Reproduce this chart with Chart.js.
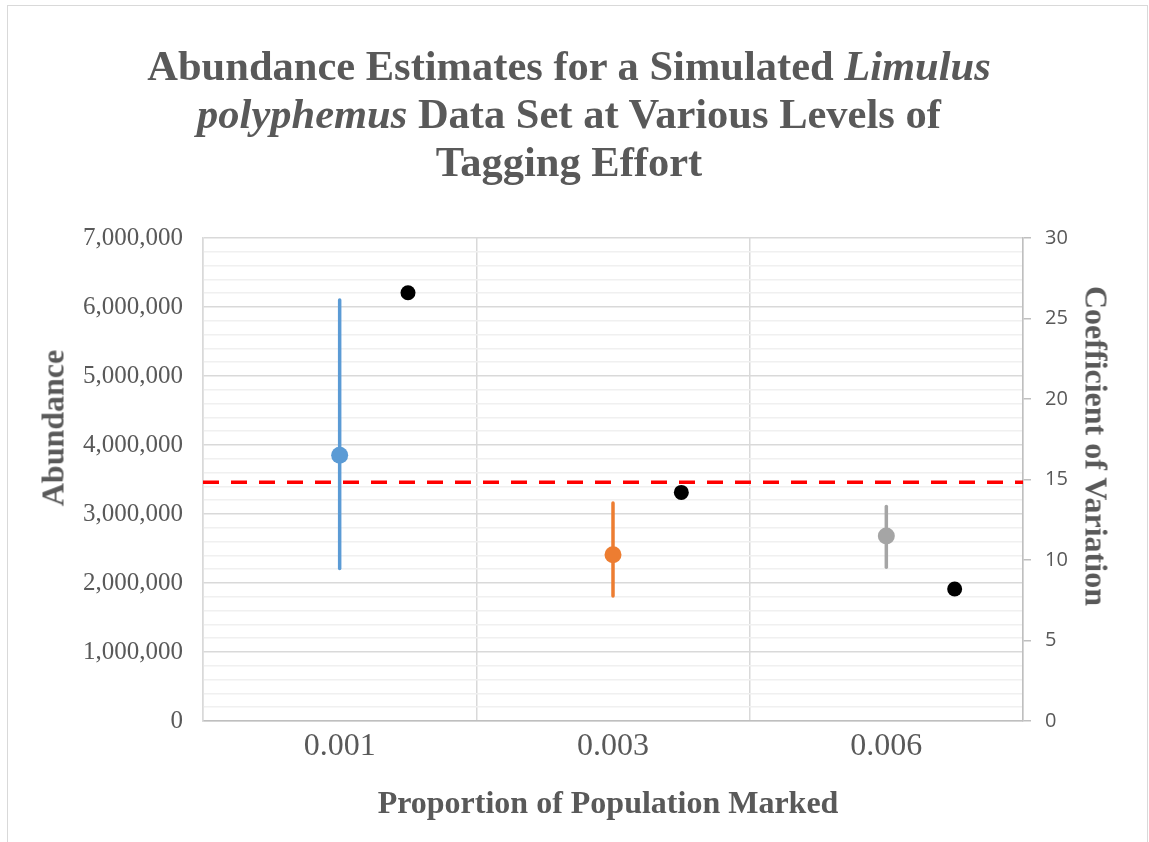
<!DOCTYPE html>
<html>
<head>
<meta charset="utf-8">
<script src="https://cdn.jsdelivr.net/npm/chart.js@4.4.1/dist/chart.umd.min.js"></script>
<style>
  html, body { margin: 0; padding: 0; background: #fff; }
  #wrap { position: relative; width: 1149px; height: 842px; overflow: hidden; }
  #frame { position: absolute; left: 7px; top: 5px; width: 1141px; height: 900px; border: 1.5px solid #d9d9d9; box-sizing: border-box; }
  canvas { position: absolute; left: 0; top: 0; }
  .ttl { position: absolute; font-family: "Liberation Serif", "Times New Roman", serif; font-weight: bold; color: #595959; white-space: nowrap; }
  #title { left: 8px; width: 1122px; top: 42px; text-align: center; font-size: 42.5px; line-height: 48px; }
  #ytitle { left: 53px; top: 428px; font-size: 32px; transform: translate(-50%, -50%) rotate(-90deg); }
  #y2title { left: 1096px; top: 446px; font-size: 32px; transform: translate(-50%, -50%) rotate(90deg); }
  #xtitle { left: 608px; top: 802px; font-size: 32px; transform: translate(-50%, -50%); }
</style>
</head>
<body>
<div id="wrap">
  <div id="frame"></div>
  <canvas id="chart" width="1149" height="842"></canvas>
  <div class="ttl" id="title">Abundance Estimates for a Simulated <i>Limulus</i><br><i>polyphemus</i> Data Set at Various Levels of<br>Tagging Effort</div>
  <div class="ttl" id="ytitle">Abundance</div>
  <div class="ttl" id="y2title">Coefficient of Variation</div>
  <div class="ttl" id="xtitle">Proportion of Population Marked</div>
</div>
<script>
// Datos
const categories = ['0.001', '0.003', '0.006'];
const estimates = [3850000, 2410000, 2680000];
const lowerBound = [2210000, 1810000, 2230000];
const upperBound = [6100000, 3160000, 3110000];
const cvValues = [26.6, 14.2, 8.2];
const trueAbundance = 3460000;
const seriesColors = ['#5B9BD5', '#ED7D31', '#A5A5A5'];

const serif = '"Liberation Serif", "Times New Roman", serif';

// Una serie por categoría: barra de error con el punto estimado en el medio
const estimateSets = categories.map((c, i) => ({
    type: 'line',
    label: c,
    data: [
        { x: i, y: lowerBound[i] },
        { x: i, y: estimates[i] },
        { x: i, y: upperBound[i] }
    ],
    borderColor: seriesColors[i],
    backgroundColor: seriesColors[i],
    borderWidth: 3.5,
    borderCapStyle: 'round',
    pointRadius: [0, 8.5, 0],
    pointHoverRadius: [0, 8.5, 0],
    pointBorderWidth: 0,
    yAxisID: 'y',
    order: 2
}));

// Coeficiente de variación, desplazado un cuarto de categoría a la derecha
const cvSet = {
    type: 'scatter',
    label: 'CV',
    data: cvValues.map((v, i) => ({ x: i + 0.25, y: v })),
    backgroundColor: '#000',
    borderColor: '#000',
    pointRadius: 7.5,
    pointBorderWidth: 0,
    yAxisID: 'y2',
    order: 1
};

// Línea de referencia (abundancia real)
const trueSet = {
    type: 'line',
    label: 'True',
    data: [{ x: -0.5, y: trueAbundance }, { x: categories.length - 0.5, y: trueAbundance }],
    borderColor: '#FF0000',
    borderWidth: 3.5,
    borderDash: [16, 12],
    pointRadius: 0,
    yAxisID: 'y',
    order: 3
};

new Chart(document.getElementById('chart'), {
    data: { datasets: [cvSet, ...estimateSets, trueSet] },
    options: {
        responsive: false,
        animation: false,
        layout: { padding: { top: 238, left: 0, right: 0, bottom: 0 } },
        plugins: { legend: { display: false }, tooltip: { enabled: false }, title: { display: false } },
        scales: {
            x: {
                type: 'linear',
                min: -0.5,
                max: categories.length - 0.5,
                afterBuildTicks: (scale) => {
                    const t = [];
                    for (let k = 0; k <= categories.length * 2; k++) t.push({ value: -0.5 + k * 0.5 });
                    scale.ticks = t;
                },
                afterFit: (scale) => { scale.height = 121; },
                ticks: {
                    autoSkip: false,
                    maxRotation: 0,
                    padding: 6,
                    color: '#595959',
                    font: { family: serif, size: 32 },
                    callback: (v) => Number.isInteger(v) ? categories[v] : ''
                },
                grid: {
                    drawTicks: false,
                    color: (ctx) => ctx.tick && !Number.isInteger(ctx.tick.value) ? '#d9d9d9' : 'rgba(0,0,0,0)',
                    lineWidth: 1.5
                },
                border: { color: '#bfbfbf', width: 1.5 }
            },
            y: {
                position: 'left',
                min: 0,
                max: 7000000,
                afterBuildTicks: (scale) => {
                    const t = [];
                    for (let v = 0; v <= 7000000; v += 200000) t.push({ value: v });
                    scale.ticks = t;
                },
                afterFit: (scale) => { scale.width = 203; },
                ticks: {
                    autoSkip: false,
                    padding: 20,
                    color: '#595959',
                    font: { family: serif, size: 25 },
                    callback: (v) => v % 1000000 === 0 ? v.toLocaleString('en-US') : ''
                },
                grid: {
                    drawTicks: false,
                    color: (ctx) => ctx.tick && ctx.tick.value % 1000000 === 0 ? '#d9d9d9' : '#f0f0f0',
                    lineWidth: 1.5
                },
                border: { color: '#d9d9d9', width: 1.5 }
            },
            y2: {
                position: 'right',
                min: 0,
                max: 30,
                afterFit: (scale) => { scale.width = 126; },
                ticks: {
                    stepSize: 5,
                    padding: 14,
                    color: '#595959',
                    font: { family: '"Open Sans", "Liberation Sans", sans-serif', size: 20 }
                },
                grid: {
                    drawOnChartArea: false,
                    tickLength: 8,
                    color: '#bfbfbf',
                    lineWidth: 1.5
                },
                border: { color: '#bfbfbf', width: 1.5 }
            }
        }
    }
});
</script>
</body>
</html>
